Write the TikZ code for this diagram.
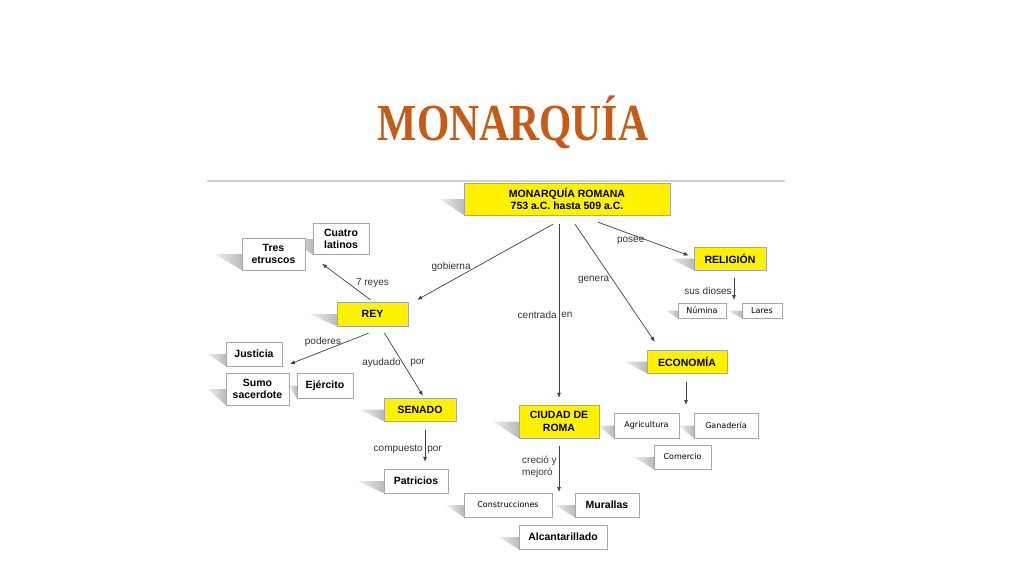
\documentclass[tikz,border=0pt]{standalone}
\usepackage{fontspec}
\setmainfont{Liberation Sans}
\newfontfamily\titlefont{Liberation Serif}
\newfontfamily\smallfont{DejaVu Sans}
\usetikzlibrary{arrows.meta}
\definecolor{titleorange}{RGB}{196,92,24}
\pgfdeclarelayer{bg}
\pgfsetlayers{bg,main}

\begin{document}
\begin{tikzpicture}[x=1pt,y=-1pt]

    \tikzset{
      ybox/.style={
        draw=gray!70,
        fill=yellow,
        inner sep=0pt,
        align=center,
        font=\bfseries\fontsize{10.5}{12.5}\selectfont,
      },
      wbox/.style={
        ybox,
        fill=white,
      },
      sbox/.style={
        wbox,
        font=\smallfont\fontsize{8}{9.5}\selectfont,
      },
      link/.style={
        color=black!75,
        line width=0.7pt,
        -{Latex[length=5pt,width=4pt]},
      },
      lbl/.style={
        color=black!80,
        inner sep=1pt,
        font=\fontsize{10}{11.5}\selectfont,
      },
      boxshade/.style={
        left color=gray!12,
        right color=gray!55,
      },
    }
    \useasboundingbox (0,0) rectangle (1024,576);
	\draw (513,122) node[anchor=center,xscale=0.8,color=titleorange,font=\titlefont\bfseries\fontsize{52}{60}\selectfont] (title) {MONARQUÍA};
	\draw[color=gray!35,line width=1.5pt] (207,181)--(785,181);

	\node[ybox,minimum width=206,minimum height=32] (mon) at (567,199) {MONARQUÍA ROMANA\\753 a.C. hasta 509 a.C.};
	\node[wbox,minimum width=63,minimum height=32] (tres) at (273.5,254) {Tres\\etruscos};
	\node[wbox,minimum width=56,minimum height=31] (cuatro) at (341,239) {Cuatro\\latinos};
	\node[ybox,minimum width=71,minimum height=24] (rey) at (372.5,314) {REY};
	\node[ybox,minimum width=72,minimum height=23] (religion) at (730,258.5) {RELIGIÓN};
	\node[sbox,minimum width=48,minimum height=15] (numina) at (702,310.5) {Númina};
	\node[sbox,minimum width=40,minimum height=15] (lares) at (762,310.5) {Lares};
	\node[wbox,minimum width=56,minimum height=24] (justicia) at (254,354) {Justicia};
	\node[wbox,minimum width=63,minimum height=32] (sumo) at (257.5,389) {Sumo\\sacerdote};
	\node[wbox,minimum width=56,minimum height=25] (ejercito) at (325,385.5) {Ejército};
	\node[ybox,minimum width=72,minimum height=23] (senado) at (420,409.5) {SENADO};
	\node[wbox,minimum width=64,minimum height=24] (patricios) at (416,481) {Patricios};
	\node[ybox,minimum width=80,minimum height=23] (economia) at (687,361.5) {ECONOMÍA};
	\node[ybox,minimum width=80,minimum height=33] (ciudad) at (559,421.5) {CIUDAD DE\\ROMA};
	\node[sbox,minimum width=65,minimum height=25] (agricultura) at (646.5,425.5) {Agricultura};
	\node[sbox,minimum width=64,minimum height=25] (ganaderia) at (726,425.5) {Ganadería};
	\node[sbox,minimum width=57,minimum height=24] (comercio) at (682.5,457) {Comercio};
	\node[sbox,minimum width=88,minimum height=24] (construcciones) at (508,505) {Construcciones};
	\node[wbox,minimum width=64,minimum height=24] (murallas) at (607,505) {Murallas};
	\node[wbox,minimum width=88,minimum height=24] (alcantarillado) at (563,537) {Alcantarillado};

	\begin{pgfonlayer}{bg}
	\foreach \n/\w in {mon/24,tres/27,cuatro/24,rey/27,religion/24,numina/12,lares/14,justicia/18,sumo/18,ejercito/8,senado/24,patricios/26,economia/22,ciudad/26,agricultura/16,ganaderia/15,comercio/20,construcciones/18,murallas/20,alcantarillado/20}
	  \shade[boxshade] (\n.south west) -- (\n.west) -- ++(-\w,0) -- cycle;
	\end{pgfonlayer}

	\coordinate (dioses) at (734,300);
	\coordinate (poder) at (290,364);
	\coordinate (ramas) at (686,405);
	\coordinate (obras) at (559,492);

	\draw[link] ([shift={(-14,9)}]mon.south) -- ([shift={(9,-2)}]rey.north east) node[lbl,pos=0.56,left=5pt] {gobierna};
	\draw[link] ([shift={(-2,-2)}]rey.north) -- ([shift={(-19,9)}]cuatro.south) node[lbl,pos=0.45,right=6pt] {7 reyes};
	\draw[link] ([shift={(-8,9)}]mon.south) -- ([shift={(0,-7)}]ciudad.north) node[lbl,pos=0.52,left=1pt] {centrada} node[lbl,pos=0.52,right=1pt] {en};
	\draw[link] ([shift={(8,9)}]mon.south) -- ([shift={(8,-8)}]economia.north west) node[lbl,pos=0.47,left=2pt] {genera};
	\draw[link] ([shift={(31,7)}]mon.south) -- ([shift={(-5,-3)}]religion.west) node[lbl,pos=0.36,below=2pt] {posee};
	\draw[link] ([shift={(4,8)}]religion.south) -- (dioses) node[lbl,pos=0.6,left=1pt] {sus dioses};
	\draw[link] ([shift={(-4,7)}]rey.south) -- (poder) node[lbl,pos=0.58,above=3pt] {poderes};
	\draw[link] ([shift={(12,7)}]rey.south) -- ([shift={(3,-2)}]senado.north) node[lbl,pos=0.48,left=1pt] {ayudado} node[lbl,pos=0.48,right=6pt] {por};
	\draw[link] ([shift={(5,9)}]senado.south) -- ([shift={(9,-7)}]patricios.north) node[lbl,pos=0.62,left=1pt] {compuesto} node[lbl,pos=0.62,right=1pt] {por};
	\draw[link] ([shift={(-1,9)}]economia.south) -- (ramas);
	\draw[link] ([shift={(0,8)}]ciudad.south) -- (obras) node[lbl,pos=0.45,left=1pt,align=left] {creció y\\mejoró};

\end{tikzpicture}
\end{document}
